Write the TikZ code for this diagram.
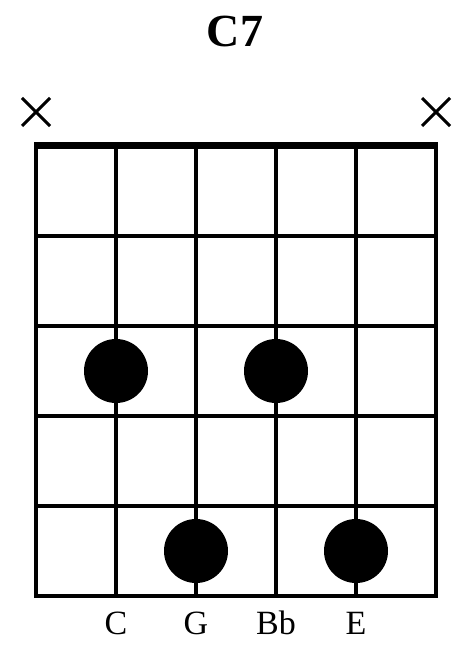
\documentclass[tikz,border=0pt]{standalone}
\usepackage{fontspec}
\setmainfont{Liberation Serif}
\usepackage{tikz}
\usetikzlibrary{positioning}

\tikzset{
  fingerdot/.style={circle, fill=black, inner sep=0pt, minimum size=64pt},
  notelabel/.style={anchor=base, font=\fontsize{34}{36}\selectfont},
  mutemark/.style={line width=3pt},
  gridline/.style={line width=4pt}
}

\begin{document}
\begin{tikzpicture}[x=1pt, y=-1pt]
\useasboundingbox (0,0) rectangle (466,650);

% Title
\node[anchor=base, font=\bfseries\fontsize{46}{50}\selectfont] (title) at (235,47) {C7};

% Muted strings
\draw[mutemark] (22,98) -- (50,126) (22,126) -- (50,98);
\draw[mutemark] (422,98) -- (450,126) (422,126) -- (450,98);

% Strings and frets
\foreach \x in {36,116,...,436}
  \draw[gridline] (\x,146) -- (\x,598);
\foreach \y in {236,326,...,596}
  \draw[gridline] (34,\y) -- (438,\y);
\draw[line width=7pt] (34,145.8) -- (438,145.8);

% Finger positions
\node[fingerdot] (c) at (116,371) {};
\node[fingerdot] (bb) at (276,371) {};
\node[fingerdot] (g) at (196,551) {};
\node[fingerdot] (e) at (356,551) {};

% Note names
\node[notelabel] (lc) at (116,634) {C};
\node[notelabel] (lg) at (196,634) {G};
\node[notelabel] (lbb) at (276,634) {Bb};
\node[notelabel] (le) at (356,634) {E};
\end{tikzpicture}
\end{document}
